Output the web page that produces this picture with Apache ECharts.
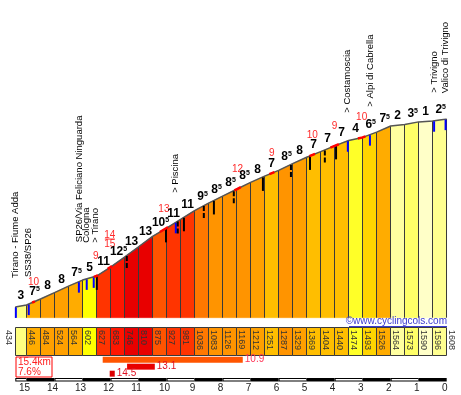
<!DOCTYPE html>
<html><head><meta charset="utf-8">
<script src="https://cdn.jsdelivr.net/npm/echarts@6/dist/echarts.min.js"></script>
<style>html,body{margin:0;padding:0;background:#fff}#c{width:461px;height:395px}</style>
</head><body><div id="c"></div>
<script>
// ---------- DATA ----------
const toGo = [15.4,15,14.5,14,13.5,13,12.5,12,11.5,11,10.5,10,9.5,9,8.5,8,7.5,7,6.5,6,5.5,5,4.5,4,3.5,3,2.5,2,1.5,1,0.5,0];
const elevations = [434,446,484,524,564,602,627,683,746,810,875,927,981,1036,1083,1126,1169,1212,1251,1287,1329,1369,1404,1440,1474,1493,1526,1564,1573,1590,1596,1608];
const gradients = [3,7.5,8,8,7.5,5,11,12.5,13,13,10.5,11,11,9.5,8.5,8.5,8.5,8,7,8.5,8,7,7,7,4,6.5,7.5,2,3.5,1,2.5];
const steepFrom = [14.8,12.6,12.1,10.24,7.58,6.33,4.9,4.15,3.17];
const steepTo   = [14.7,12.45,11.95,9.95,7.35,6.15,4.7,3.85,2.9];
const steepMax  = ['10','9','14/15','13','12','9','10','9','10'];
const markerKm   = [15.38,14.92,13.13,12.85,12.6,12.49,11.42,10.02,9.67,9.6,9.38,8.67,8.31,7.6,6.56,5.56,4.88,4.35,3.95,3.53,2.74,0.45,0.04];
const markerType = ['b','b','b','b','b','k','d','k','b','d','k','d','k','d','k','d','k','d','k','b','b','b','b'];
const waypointKm    = [15.4,14.92,13.13,12.85,12.53,9.67,3.53,2.74,0.45,0.04];
const waypointNames = ['Tirano - Fiume Adda','SS38/SP26','SP26/Via Feliciano Ninguarda','Cologna','> Tirano','> Piscina','> Costamoscia','> Alpi di Cabrella','> Trivigno','Valico di Trivigno'];
const kmTicks = [15,14,13,12,11,10,9,8,7,6,5,4,3,2,1,0];
const bestFrom  = [12.28,11.41,12.03];
const bestTo    = [7.28,10.42,11.85];
const bestGrade = [10.9,13.1,14.5];
const totalKm = 15.4;
const avgGrade = 7.6;

// ---------- STYLE ----------
const FONT = '"Liberation Sans", Arial, sans-serif';
const gradeColors = [[1,'#ffffc8'],[2,'#ffffa0'],[2.5,'#ffff90'],[3,'#ffff80'],[3.5,'#ffff68'],[4,'#ffff28'],[5,'#ffff00'],[6.5,'#ffd400'],[7,'#ffbe00'],[7.5,'#ffac00'],[8,'#ffa000'],[8.5,'#ff9400'],[9.5,'#ff7800'],[10.5,'#ff5400'],[11,'#ff3400'],[12.5,'#ff1600'],[13,'#e80000']];
const bestColors = ['#ff5500','#e80000','#dd0000'];
const bestLabelColors = ['#ff3355','#e01020','#e01020'];
const waypointLift = [29,27,39.5,36,33.5,29.5,28,28,28,26];
const Y0 = 367, Y1 = 1608;

function colorFor(g){ let best=gradeColors[0]; for(const c of gradeColors){ if(Math.abs(c[0]-g)<Math.abs(best[0]-g)) best=c; } return best[1]; }
function elevAt(km){
  for(let i=0;i<toGo.length-1;i++){ const a=toGo[i], b=toGo[i+1];
    if(km<=a && km>=b) return elevations[i]+(elevations[i+1]-elevations[i])*(a-km)/(a-b); }
  return km>toGo[0]?elevations[0]:elevations[elevations.length-1];
}
const crisp = v => Math.round(v-0.5)+0.5;

const L = 15.3, R = 461-446.7;
const series = [];

// profile fill + dividers
series.push({type:'custom', xAxisIndex:0, yAxisIndex:0, z:1, silent:true,
  data: gradients.map((g,i)=>[toGo[i],toGo[i+1],elevations[i],elevations[i+1],g]),
  encode:{x:[0,1], y:[2,3]},
  renderItem(params, api){
    const a=api.value(0), b=api.value(1), e0=api.value(2), e1=api.value(3), g=api.value(4);
    const pa=api.coord([a,e0]), pb=api.coord([b,e1]), ba=api.coord([a,Y0]), bb=api.coord([b,Y0]);
    const ch=[{type:'polygon', shape:{points:[ba,pa,pb,bb]}, style:{fill:colorFor(g), stroke:colorFor(g), lineWidth:0.5}}];
    ch.push({type:'line', z2:2, shape:{x1:crisp(ba[0]),y1:ba[1],x2:crisp(pa[0]),y2:pa[1]}, style:{stroke:'#3a3a3a', lineWidth:1}});
    if(params.dataIndex===gradients.length-1) ch.push({type:'line', z2:2, shape:{x1:crisp(bb[0]),y1:bb[1],x2:crisp(pb[0]),y2:pb[1]}, style:{stroke:'#3a3a3a', lineWidth:1}});
    return {type:'group', children:ch};
  }});

// profile top line
series.push({type:'line', xAxisIndex:0, yAxisIndex:0, z:3, silent:true, symbol:'none',
  data: toGo.map((k,i)=>[k,elevations[i]]), lineStyle:{color:'#555', width:1.5}});

// markers
series.push({type:'custom', xAxisIndex:0, yAxisIndex:0, z:4, silent:true,
  data: markerKm.map(k=>[k, elevAt(k)]),
  renderItem(params, api){
    const p=api.coord([api.value(0), api.value(1)]); const t=markerType[params.dataIndex];
    const len = t==='b'?11:14;
    return {type:'line', shape:{x1:p[0],y1:p[1]+0.5,x2:p[0],y2:p[1]+len},
      style:{stroke:t==='b'?'#0000ff':'#000', lineWidth:2, lineDash:t==='d'?[5,2]:null}};
  }});

// steep red marks & labels
series.push({type:'custom', xAxisIndex:0, yAxisIndex:0, z:5, silent:true,
  data: steepFrom.map((f,i)=>[f, steepTo[i]]),
  renderItem(params, api){
    const f=api.value(0), t=api.value(1), i=params.dataIndex;
    const pts=[api.coord([f,elevAt(f)])];
    toGo.forEach((k,j)=>{ if(k<f && k>t) pts.push(api.coord([k,elevations[j]])); });
    pts.push(api.coord([t,elevAt(t)]));
    const m=(f+t)/2, pm=api.coord([m,elevAt(m)]);
    const ch=[{type:'polyline', shape:{points:pts}, style:{stroke:'#ff0000', lineWidth:2.5, fill:null}}];
    const txt=steepMax[i];
    if(txt.indexOf('/')>=0){
      const [n,d]=txt.split('/');
      ch.push({type:'text', x:pm[0], y:pm[1]-32.5, style:{text:n, font:'10px '+FONT, fill:'#ff2a2a', align:'center', verticalAlign:'middle'}});
      ch.push({type:'line', shape:{x1:pm[0]-5,y1:pm[1]-28.5,x2:pm[0]+5,y2:pm[1]-28.5}, style:{stroke:'#ff2a2a', lineWidth:1}});
      ch.push({type:'text', x:pm[0], y:pm[1]-23.5, style:{text:d, font:'10px '+FONT, fill:'#ff2a2a', align:'center', verticalAlign:'middle'}});
    } else {
      ch.push({type:'text', x:pm[0], y:pm[1]-20, style:{text:txt, font:'10px '+FONT, fill:'#ff2a2a', align:'center', verticalAlign:'middle'}});
    }
    return {type:'group', children:ch};
  }});

// gradient labels
series.push({type:'custom', xAxisIndex:0, yAxisIndex:0, z:6, silent:true,
  data: gradients.map((g,i)=>[(toGo[i]+toGo[i+1])/2, (elevations[i]+elevations[i+1])/2, g]),
  renderItem(params, api){
    const p=api.coord([api.value(0), api.value(1)]); const g=api.value(2);
    const ip=Math.floor(g), fr=Math.round((g-ip)*10);
    const text = fr ? `{m|${ip}}{s|${fr}}` : `{m|${ip}}`;
    return {type:'text', x:p[0]+(fr?1:0), y:p[1]-4, style:{text, align:'center', verticalAlign:'bottom',
      rich:{m:{font:'bold 12px '+FONT, fill:'#000'}, s:{font:'bold 7px '+FONT, fill:'#000', verticalAlign:'top'}}}};
  }});

// waypoint labels
series.push({type:'custom', xAxisIndex:0, yAxisIndex:0, z:6, silent:true,
  data: waypointKm.map(k=>[k, elevAt(k)]),
  renderItem(params, api){
    const p=api.coord([api.value(0), api.value(1)]); const i=params.dataIndex;
    return {type:'text', x:p[0], y:p[1]-waypointLift[i], rotation:Math.PI/2,
      style:{text:waypointNames[i], font:'9.5px '+FONT, fill:'#000', align:'left', verticalAlign:'middle'}};
  }});

// elevation table cells
series.push({type:'custom', xAxisIndex:1, yAxisIndex:1, z:2, silent:true,
  data: gradients.map((g,i)=>[toGo[i],toGo[i+1],g]),
  renderItem(params, api){
    const a=api.coord([api.value(0),1]), b=api.coord([api.value(1),0]);
    const x0=crisp(a[0]), x1=crisp(b[0]), y0=crisp(a[1]), y1=crisp(b[1]);
    return {type:'rect', shape:{x:x0,y:y0,width:x1-x0,height:y1-y0}, style:{fill:colorFor(api.value(2)), stroke:'#3a3a3a', lineWidth:1}};
  }});
// elevation table labels
series.push({type:'custom', xAxisIndex:1, yAxisIndex:1, z:3, silent:true,
  data: toGo.map((k,i)=>[k, elevations[i]]),
  renderItem(params, api){
    const p=api.coord([api.value(0),1]); const i=params.dataIndex;
    return {type:'text', x:p[0]+(i===0?-7:5), y:p[1]+3, rotation:-Math.PI/2,
      style:{text:String(api.value(1)), font:'9px '+FONT, fill:'#333', align:'left', verticalAlign:'middle'}};
  }});

// best gradient bars
series.push({type:'custom', xAxisIndex:2, yAxisIndex:2, z:2, silent:true,
  data: bestFrom.map((f,i)=>[f, bestTo[i], i, bestGrade[i]]),
  renderItem(params, api){
    const r=api.value(2), i=params.dataIndex;
    const a=api.coord([api.value(0), r+0.1]), b=api.coord([api.value(1), r+0.95]);
    return {type:'group', children:[
      {type:'rect', shape:{x:a[0],y:a[1],width:b[0]-a[0],height:b[1]-a[1]}, style:{fill:bestColors[i]}},
      {type:'text', x:b[0]+2, y:(a[1]+b[1])/2, style:{text:api.value(3).toFixed(1), font:'10px '+FONT, fill:bestLabelColors[i], align:'left', verticalAlign:'middle'}}
    ]};
  }});

// km scale bar
const kmEdges=[totalKm].concat(kmTicks);
series.push({type:'custom', xAxisIndex:3, yAxisIndex:3, z:2, silent:true,
  data: kmEdges.slice(0,-1).map((k,i)=>[k, kmEdges[i+1]]),
  renderItem(params, api){
    const a=api.coord([api.value(0),1]), b=api.coord([api.value(1),0]);
    const ch=[{type:'rect', shape:{x:a[0],y:a[1],width:b[0]-a[0],height:b[1]-a[1]}, style:{fill:'#000'}}];
    if(params.dataIndex%2===0) ch.push({type:'rect', shape:{x:a[0]+1,y:a[1]+1,width:b[0]-a[0]-1.5,height:b[1]-a[1]-2}, style:{fill:'#fff'}});
    return {type:'group', children:ch};
  }});

const mkX = (i, extra)=>Object.assign({gridIndex:i, type:'value', min:0, max:totalKm, inverse:true, show:false}, extra||{});
const option = {
  animation:false, backgroundColor:'#fff',
  grid:[
    {left:L, right:R, top:119, height:198.7},
    {left:L, right:R, top:327, height:28},
    {left:L, right:R, top:356, height:21},
    {left:L, right:R, top:378, height:3.5}
  ],
  xAxis:[mkX(0), mkX(1), mkX(2), mkX(3, {show:true, interval:1, axisLine:{show:false}, axisTick:{show:false}, splitLine:{show:false},
    axisLabel:{fontSize:10, fontFamily:FONT, color:'#222', margin:2, padding:[0,4,0,0], formatter:v=>Number.isInteger(v)?String(v):''}})],
  yAxis:[
    {gridIndex:0, type:'value', min:Y0, max:Y1, show:false},
    {gridIndex:1, type:'value', min:0, max:1, show:false},
    {gridIndex:2, type:'value', min:0, max:3, inverse:true, show:false},
    {gridIndex:3, type:'value', min:0, max:1, show:false}
  ],
  graphic:[
    {type:'rect', left:15.5, top:356.5, shape:{width:36, height:20}, style:{fill:'#fff', stroke:'#ff0000', lineWidth:1}, z:10},
    {type:'text', left:18, top:357, style:{text:totalKm.toFixed(1)+'km', font:'10px '+FONT, fill:'#ff2020'}, z:11},
    {type:'text', left:18, top:367, style:{text:avgGrade.toFixed(1)+'%', font:'10px '+FONT, fill:'#ff2020'}, z:11},
    {type:'text', right:14, top:316, style:{text:'\u00a9www.cyclingcols.com', font:'10px '+FONT, fill:'#3a3ad0'}, z:11},
    {type:'line', shape:{x1:349, y1:326.5, x2:447, y2:326.5}, style:{stroke:'#3a3ad0', lineWidth:1}, z:11}
  ],
  series
};
const chart = echarts.init(document.getElementById('c'));
chart.setOption(option);
</script></body></html>
